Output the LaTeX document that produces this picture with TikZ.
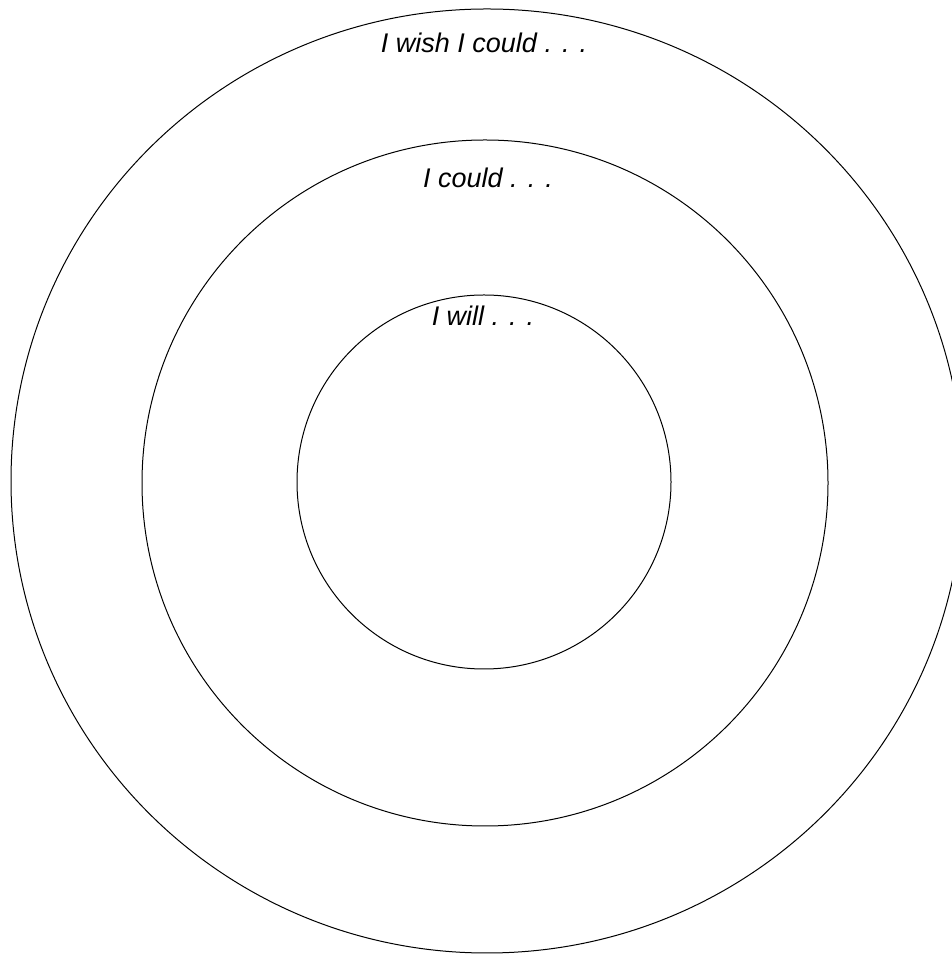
\documentclass[tikz,border=0pt]{standalone}
\usepackage{fontspec}
\setmainfont{Liberation Sans}
\usepackage{tikz}

\begin{document}
\begin{tikzpicture}[x=1pt,y=1pt,line width=1pt,
  lbl/.style={anchor=base,inner sep=0pt,font=\fontsize{27}{30}\selectfont\itshape}]
  % 1. the page
  \useasboundingbox (0,0) rectangle (952,955);
  % 2. the three rings (outer one runs off the right edge)
  \draw (487,474) ellipse [x radius=476,y radius=472];
  \draw (485,472) circle [radius=343];
  \draw (484,473) circle [radius=187];
  % 3. ring labels
  \node[lbl] (wish)  at (484,902) {I wish I could . . .};
  \node[lbl] (could) at (488,767) {I could . . .};
  \node[lbl] (will)  at (483,629) {I will . . .};
\end{tikzpicture}
\end{document}
